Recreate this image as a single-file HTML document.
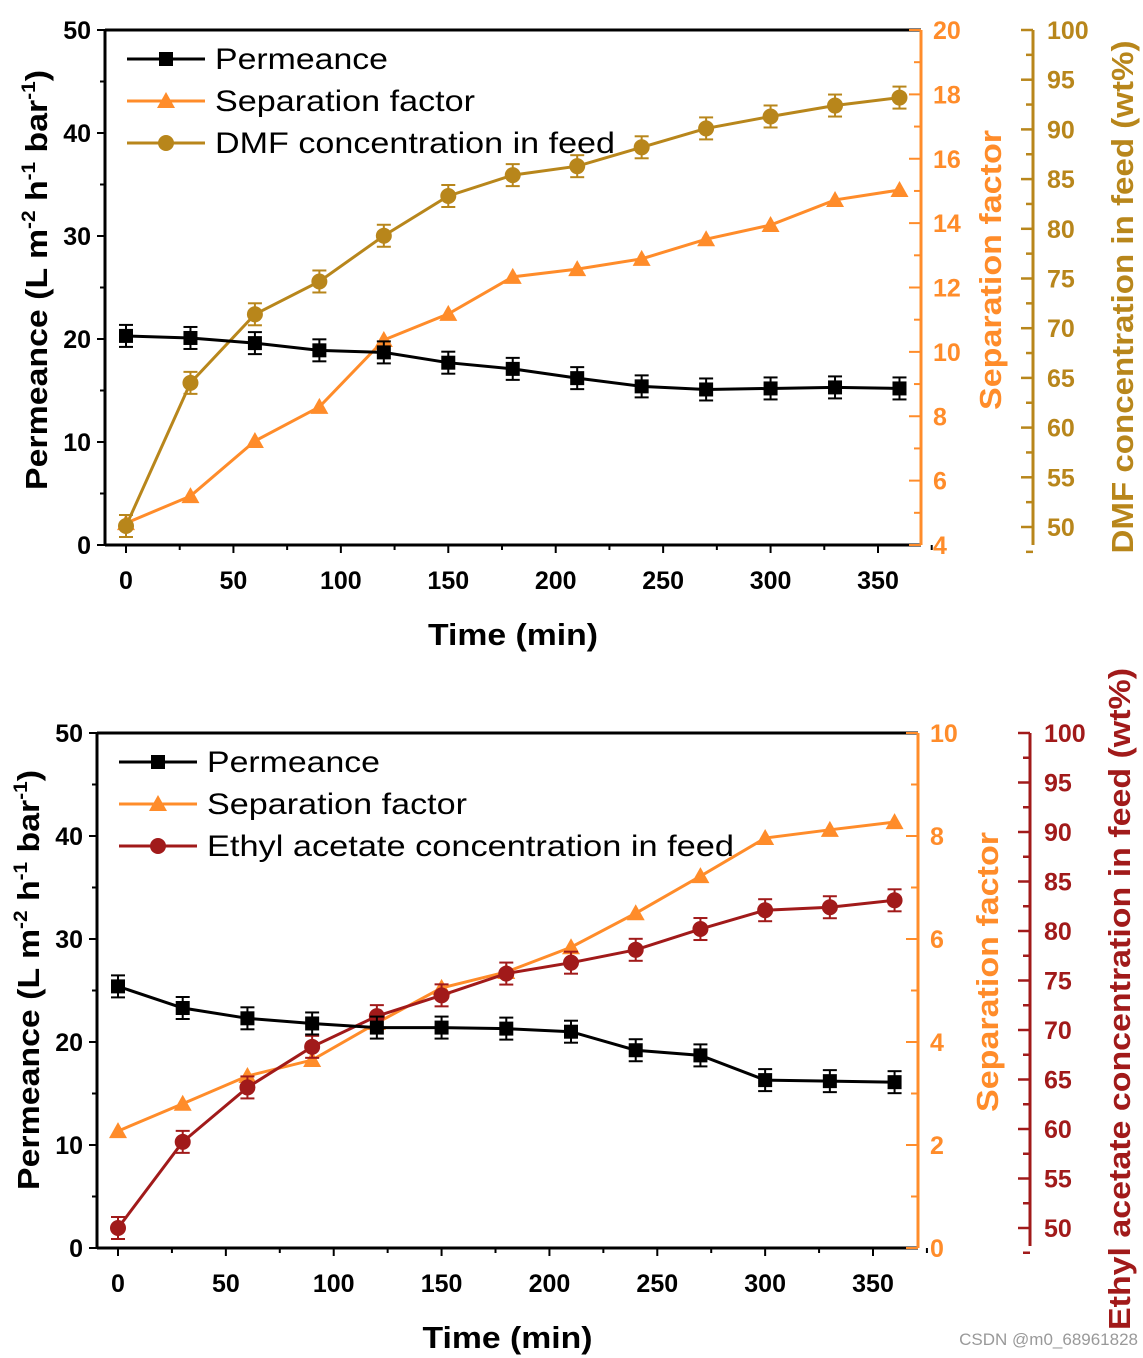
<!DOCTYPE html>
<html><head><meta charset="utf-8"><style>
body{margin:0;background:#fff;}
svg{display:block;font-family:"Liberation Sans",Arial,sans-serif;}
</style></head><body>
<svg id="s" width="1143" height="1358" viewBox="0 0 1143 1358" xmlns="http://www.w3.org/2000/svg"></svg>
<script>
const times = [0,30,60,90,120,150,180,210,240,270,300,330,360];
const permA = [20.3,20.1,19.6,18.9,18.7,17.7,17.1,16.2,15.4,15.1,15.2,15.3,15.2];
const sepA = [4.68,5.52,7.23,8.29,10.37,11.18,12.33,12.57,12.89,13.5,13.94,14.72,15.03];
const dmfA = [50.1,64.5,71.4,74.7,79.3,83.3,85.4,86.3,88.2,90.1,91.3,92.4,93.2];
const permB = [25.4,23.3,22.3,21.8,21.4,21.4,21.3,21.0,19.2,18.7,16.3,16.2,16.1];
const sepB = [2.27,2.8,3.34,3.65,4.37,5.05,5.36,5.84,6.5,7.22,7.96,8.12,8.27];
const eaB = [50,58.7,64.2,68.3,71.4,73.5,75.7,76.8,78.1,80.2,82.1,82.4,83.1];
const xTicks = [0,50,100,150,200,250,300,350];
const leftTicks = [0,10,20,30,40,50];
const sepTicksA = [4,6,8,10,12,14,16,18,20];
const sepTicksB = [0,2,4,6,8,10];
const concTicks = [50,55,60,65,70,75,80,85,90,95,100];

const NS="http://www.w3.org/2000/svg";
const svg=document.getElementById('s');
function el(tag,attrs,parent,text){const e=document.createElementNS(NS,tag);for(const k in attrs)e.setAttribute(k,attrs[k]);if(text!==undefined)e.textContent=text;(parent||svg).appendChild(e);return e;}

function chart(c){
  const g=el('g',{});
  
  
  const X=v=>c.x0+(v-0)*(c.x350-c.x0)/350;
  const YL=v=>c.bot-(v)*(c.bot-c.top)/50;
  const YS=v=>c.bot-(v-c.sMin)*(c.bot-c.top)/(c.sMax-c.sMin);
  const YC=v=>c.c50-(v-50)*(c.c50-c.top)/50;
  const OR='#ff8c2a';
  const LA='spacingAndGlyphs';
  el('line',{x1:c.L,y1:c.top,x2:c.R,y2:c.top,stroke:'#000','stroke-width':3},g);
  el('line',{x1:c.L,y1:c.bot,x2:c.R,y2:c.bot,stroke:'#000','stroke-width':3},g);
  el('line',{x1:c.L,y1:c.top,x2:c.L,y2:c.bot,stroke:'#000','stroke-width':3},g);
  el('line',{x1:c.R,y1:c.top,x2:c.R,y2:c.bot,stroke:OR,'stroke-width':3},g);
  xTicks.forEach(t=>{const x=X(t);el('line',{x1:x,y1:c.bot,x2:x,y2:c.bot+8,stroke:'#000','stroke-width':2},g);
    const tx=el('text',{x:x,y:c.bot+44,'text-anchor':'middle','font-size':25,'font-weight':'bold'},g,t);
    
    el('line',{x1:X(t+25),y1:c.bot,x2:X(t+25),y2:c.bot+5,stroke:'#000','stroke-width':2},g);});
  const xt=el('text',{x:(c.L+c.R)/2-85,y:c.bot+100,'font-size':31,'font-weight':'bold',textLength:170,lengthAdjust:LA},g,'Time (min)');
  
  leftTicks.forEach(t=>{const y=YL(t);el('line',{x1:c.L-8,y1:y,x2:c.L,y2:y,stroke:'#000','stroke-width':2},g);
    if(t<50)el('line',{x1:c.L-5,y1:YL(t+5),x2:c.L,y2:YL(t+5),stroke:'#000','stroke-width':2},g);
    const tx=el('text',{x:c.L-14,y:y+9,'text-anchor':'end','font-size':25,'font-weight':'bold'},g,t);
    });
  const yt=el('text',{transform:`translate(${c.L-58},${c.pY+210}) rotate(-90)`,'font-size':31,'font-weight':'bold',textLength:420,lengthAdjust:LA},g);
  
  el('tspan',{},yt,'Permeance (L m');el('tspan',{dy:-12,'font-size':19},yt,'-2');el('tspan',{dy:12},yt,' h');
  el('tspan',{dy:-12,'font-size':19},yt,'-1');el('tspan',{dy:12},yt,' bar');el('tspan',{dy:-12,'font-size':19},yt,'-1');el('tspan',{dy:12},yt,')');
  c.sTicks.forEach((t,i)=>{const y=YS(t);el('line',{x1:c.R-12,y1:y,x2:c.R,y2:y,stroke:OR,'stroke-width':2},g);
    if(i<c.sTicks.length-1){const m=YS(t+(c.sTicks[1]-c.sTicks[0])/2);el('line',{x1:c.R-7,y1:m,x2:c.R,y2:m,stroke:OR,'stroke-width':2},g);}
    const tx=el('text',{x:c.R+12,y:y+9,'font-size':25,'font-weight':'bold',fill:OR},g,t);
    });
  const st=el('text',{transform:`translate(${c.R+80},${c.sY+140}) rotate(-90)`,'font-size':31,'font-weight':'bold',fill:OR,textLength:280,lengthAdjust:LA},g,'Separation factor');
  
  el('line',{x1:c.cx,y1:c.top,x2:c.cx,y2:c.c50+18,stroke:c.cc,'stroke-width':3},g);
  concTicks.forEach((t,i)=>{const y=YC(t);el('line',{x1:c.cx-12,y1:y,x2:c.cx,y2:y,stroke:c.cc,'stroke-width':2.5},g);
    el('line',{x1:c.cx-7,y1:YC(t-2.5),x2:c.cx,y2:YC(t-2.5),stroke:c.cc,'stroke-width':2.5},g);
    const tx=el('text',{x:c.cx+14,y:y+9,'font-size':25,'font-weight':'bold',fill:c.cc},g,t);
    });
  const ct=el('text',{transform:`translate(${c.cx+100},${c.cTitleY+c.cLen/2}) rotate(-90)`,'font-size':31,'font-weight':'bold',fill:c.cc,textLength:c.cLen,lengthAdjust:LA},g,c.cTitle);
  
  function series(vals,Y,col,shape,err,nm){
    const sg=el('g',{},g);
    
    el('polyline',{points:vals.map((v,i)=>X(times[i])+','+Y(vals[i])).join(' '),fill:'none',stroke:col,'stroke-width':3},sg);
    vals.forEach((v,i)=>{const x=X(times[i]),y=Y(v);
      if(err){const e=err;el('line',{x1:x,y1:y-e,x2:x,y2:y+e,stroke:col,'stroke-width':2},sg);
        el('line',{x1:x-7,y1:y-e,x2:x+7,y2:y-e,stroke:col,'stroke-width':2},sg);
        el('line',{x1:x-7,y1:y+e,x2:x+7,y2:y+e,stroke:col,'stroke-width':2},sg);}
      marker(sg,x,y,col,shape);});
  }
  series(c.sep,YS,OR,'tri',0,'separation-factor-series');
  series(c.conc,YC,c.cc,'circ',11,'concentration-series');
  series(c.perm,YL,'#000','sq',11,'permeance-series');
  const lg=el('g',{},g);
  [['Permeance','#000','sq',173],['Separation factor',OR,'tri',260],[c.cLeg,c.cc,'circ',c.legLen]].forEach((d,i)=>{
    const y=c.top+29+i*42;const e=el('g',{},lg);
    
    el('line',{x1:c.L+22,y1:y,x2:c.L+100,y2:y,stroke:d[1],'stroke-width':3},e);
    marker(e,c.L+61,y,d[1],d[2]);
    el('text',{x:c.L+110,y:y+10,'font-size':30,textLength:d[3],lengthAdjust:LA},e,d[0]);});
}
function marker(p,x,y,col,s){
  if(s==='sq')el('rect',{x:x-7,y:y-7,width:14,height:14,fill:col},p);
  else if(s==='tri')el('polygon',{points:`${x},${y-9} ${x-9},${y+7} ${x+9},${y+7}`,fill:col},p);
  else el('circle',{cx:x,cy:y,r:8,fill:col},p);
}
chart({name:'dmf-chart',L:105,R:921,top:30,bot:545,x0:126,x350:878,sMin:4,sMax:20,sTicks:sepTicksA,pY:280,sY:270,
  cx:1033,c50:527,cc:'#b8861b',cTitle:'DMF concentration in feed (wt%)',cTitleY:297,cLen:513,cLeg:'DMF concentration in feed',legLen:400,
  perm:permA,sep:sepA,conc:dmfA});
chart({name:'ethyl-acetate-chart',L:97,R:918,top:733,bot:1248,x0:118,x350:873,sMin:0,sMax:10,sTicks:sepTicksB,pY:980,sY:972,
  cx:1030,c50:1228,cc:'#a11a1a',cTitle:'Ethyl acetate concentration in feed (wt%)',cTitleY:999,cLen:662,cLeg:'Ethyl acetate concentration in feed',legLen:527,
  perm:permB,sep:sepB,conc:eaB});
const wm=el('text',{x:1138,y:1345,'text-anchor':'end','font-size':17,fill:'#999'},svg,'CSDN @m0_68961828');

</script>
</body></html>
